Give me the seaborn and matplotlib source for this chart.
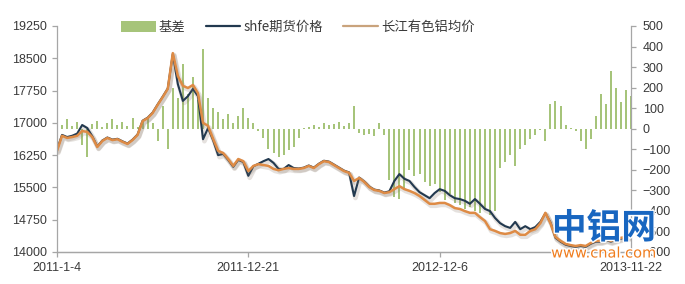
import numpy as np
import pandas as pd
import matplotlib
matplotlib.use("Agg")
import matplotlib.pyplot as plt
import matplotlib.patheffects as pe
from matplotlib.patches import Patch
from matplotlib.lines import Line2D
import seaborn as sns

# ---------------- data ----------------
tick_labels = ["2011-1-4", "2011-12-21", "2012-12-6", "2013-11-22"]
series_names = ["基差", "shfe期货价格", "长江有色铝均价"]

changjiang = [16350, 16700, 16650, 16670, 16700, 16810, 16790, 16670, 16440, 16580,
              16650, 16600, 16620, 16560, 16510, 16600, 16720, 17040, 17110, 17230,
              17420, 17600, 17790, 18620, 18090, 17860, 17810, 17880, 17690, 17000,
              16930, 16630, 16350, 16300, 16160, 16000, 16160, 16110, 15880, 16000,
              16040, 16020, 16000, 15930, 15900, 15930, 15950, 15930, 15930, 15950,
              16000, 15950, 16040, 16110, 16090, 16020, 15950, 15880, 15840, 15650,
              15720, 15630, 15510, 15440, 15420, 15370, 15390, 15460, 15530, 15460,
              15420, 15370, 15300, 15210, 15120, 15120, 15140, 15140, 15090, 15020,
              15000, 14950, 14910, 14910, 14810, 14720, 14530, 14490, 14440, 14420,
              14440, 14490, 14400, 14400, 14490, 14530, 14670, 14910, 14670, 14350,
              14260, 14190, 14160, 14140, 14160, 14140, 14210, 14260, 14260, 14300,
              14260, 14300, 14330, 14350, 14370]

shfe = [16380, 16720, 16670, 16700, 16750, 16950, 16880, 16690, 16450, 16590,
        16660, 16610, 16630, 16570, 16520, 16610, 16730, 17050, 17120, 17240,
        17430, 17610, 17800, 18600, 17900, 17510, 17620, 17790, 17620, 16620,
        16880, 16600, 16250, 16280, 16140, 15980, 16140, 16090, 15770, 15990,
        16050, 16110, 16160, 16070, 15930, 15930, 16020, 15950, 15940, 15960,
        16010, 15960, 16050, 16120, 16100, 16030, 15960, 15890, 15850, 15300,
        15730, 15640, 15520, 15450, 15430, 15380, 15410, 15650, 15810, 15700,
        15650, 15510, 15390, 15320, 15250, 15370, 15460, 15420, 15320, 15250,
        15230, 15190, 15120, 15230, 15120, 15000, 14950, 14790, 14670, 14600,
        14560, 14700, 14530, 14600, 14530, 14580, 14700, 14900, 14690, 14330,
        14240, 14170, 14140, 14120, 14140, 14120, 14190, 14240, 14240, 14280,
        14240, 14280, 14310, 14330, 14350]

basis = [30, 20, 45, 15, 35, -80, -140, 25, 40, 10,
         30, 45, 20, 35, 15, 50, 10, 40, 55, 30,
         -60, 110, -100, 200, 150, 315, 170, 250, 140, 390,
         150, 100, 80, 45, 70, 30, 60, 100, 50, 30,
         -10, -45, -100, -120, -140, -130, -105, -90, -45, 5,
         10, 20, 10, 30, 20, 25, 35, 15, 30, 110,
         -20, -30, -25, -35, 30, -30, -250, -330, -340, -300,
         -200, -230, -220, -260, -280, -270, -310, -345, -320, -360,
         -370, -390, -380, -400, -410, -390, -420, -400, -190, -160,
         -130, -180, -100, -80, -50, -30, -5, -60, 120, 135,
         110, 20, 5, -10, -60, -100, -50, 60, 170, 120,
         280, 200, 130, 190, 160]

# ---------------- styling ----------------
GREEN = "#A6C47A"
BLUE = "#22394F"
ORANGE = "#DE8B45"
LEG_ORANGE = "#C9A37C"
AXIS = "#A6A6A6"
TXT = "#3A3A3A"

sns.set_theme(style="white")
plt.rcParams["font.family"] = ["Liberation Sans", "Noto Sans CJK SC", "DejaVu Sans"]

df = pd.DataFrame({"idx": np.arange(len(basis)), "basis": basis,
                   "shfe": shfe, "changjiang": changjiang})
n = len(df)

fig = plt.figure(figsize=(6.85, 2.84), dpi=100)
ax = fig.add_axes([57 / 685, 1 - 252 / 284, 574 / 685, 226 / 284])
ax2 = ax.twinx()

# bars on the right axis
sns.barplot(data=df, x="idx", y="basis", native_scale=True, color=GREEN,
            width=0.4, errorbar=None, ax=ax2, linewidth=0, saturation=1)
ax2.set_ylim(-600, 500)
ax2.set_yticks(range(-600, 501, 100))

# lines on the left axis, drawn above the bars
ax.set_zorder(ax2.get_zorder() + 1)
ax.patch.set_visible(False)
shadow = [pe.SimpleLineShadow(offset=(1.0, -1.4), shadow_color="#8a7a6a", alpha=0.22,
                              linewidth=3.4), pe.Normal()]
sns.lineplot(data=df, x="idx", y="shfe", color=BLUE, linewidth=1.5, ax=ax,
             path_effects=shadow)
sns.lineplot(data=df, x="idx", y="changjiang", color=ORANGE, linewidth=1.8, ax=ax,
             path_effects=shadow)
ax.set_ylim(14000, 19250)
ax.set_yticks(range(14000, 19251, 750))
ax.set_xlim(0, n - 1)
ax.set_xticks(np.linspace(0, n - 1, len(tick_labels)))
ax.set_xticklabels(tick_labels)
ax.set_xlabel("")
ax.set_ylabel("")
ax2.set_xlabel("")
ax2.set_ylabel("")

for a in (ax, ax2):
    for s in a.spines.values():
        s.set_color(AXIS)
        s.set_linewidth(0.9)
    a.spines["top"].set_visible(False)
    a.tick_params(colors=TXT, labelsize=9, length=3.5, width=0.9, pad=3.5)
    a.tick_params(axis="both", which="both", color=AXIS)
ax.tick_params(axis="y", left=True, right=False)
ax.tick_params(axis="x", bottom=True)
ax2.tick_params(axis="y", right=True, left=False, pad=5)
ax2.spines["left"].set_visible(False)
ax.spines["right"].set_visible(False)
ax2.grid(False)
ax.grid(False)

# legend
handles = [Patch(facecolor=GREEN, edgecolor="none"),
           Line2D([], [], color=BLUE, linewidth=1.6),
           Line2D([], [], color=LEG_ORANGE, linewidth=1.6)]
fig.legend(handles, series_names, loc="center", bbox_to_anchor=(0.435, 1 - 27 / 284),
           ncol=3, frameon=False, prop={"family": ["Noto Sans CJK SC", "DejaVu Sans"],
                                        "size": 9.6},
           handlelength=2.6, handleheight=0.9, handletextpad=0.25, columnspacing=1.5,
           labelcolor=TXT)

# watermark (overlays the lower right corner as in the reference)
fig.text(604 / 685, 1 - 228 / 284, "中铝网", ha="center", va="center", fontsize=25,
         fontweight="bold", color="#1866C0", family=["Noto Sans CJK SC"], zorder=10,
         path_effects=[pe.withStroke(linewidth=2, foreground="white")])
fig.text(604 / 685, 1 - 253 / 284, "www.cnal.com", ha="center", va="center",
         fontsize=10.5, color="#F07D1E", family=["DejaVu Sans"], zorder=10,
         path_effects=[pe.withStroke(linewidth=2, foreground="white")])

fig.savefig("out.png", dpi=100)
